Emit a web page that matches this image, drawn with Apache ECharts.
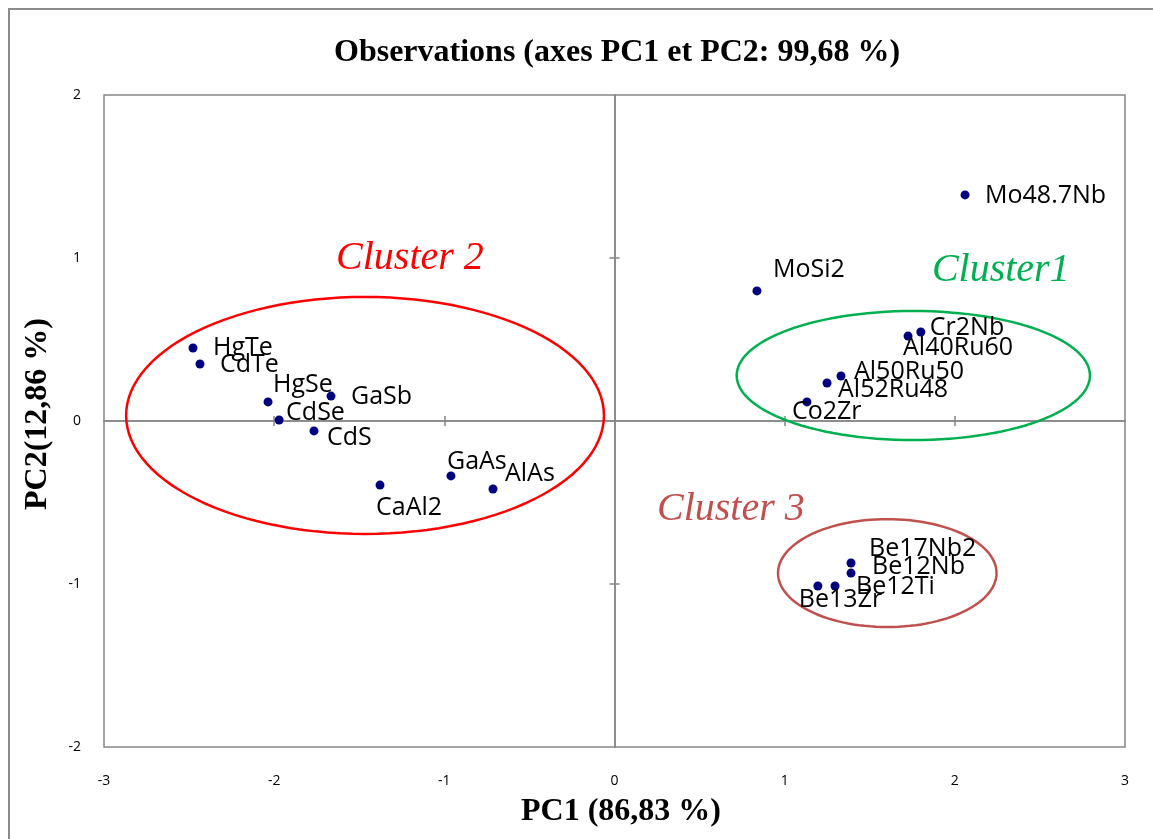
<!DOCTYPE html>
<html>
<head>
<meta charset="utf-8">
<script src="https://cdn.jsdelivr.net/npm/echarts@6/dist/echarts.min.js"></script>
<style>html,body{margin:0;padding:0;background:#fff;}#chart{width:1153px;height:839px;}</style>
</head>
<body>
<div id="chart"></div>
<script>
// Observation names and PCA coordinates
const names = ['HgTe','CdTe','HgSe','GaSb','CdSe','CdS','CaAl2','GaAs','AlAs','MoSi2','Mo48.7Nb','Cr2Nb','Al40Ru60','Al50Ru50','Al52Ru48','Co2Zr','Be17Nb2','Be12Nb','Be12Ti','Be13Zr'];
const pc1 = [-2.477,-2.436,-2.036,-1.666,-1.971,-1.766,-1.378,-0.961,-0.714,0.837,2.060,1.800,1.725,1.331,1.249,1.131,1.390,1.390,1.296,1.195];
const pc2 = [0.448,0.350,0.117,0.153,0.006,-0.061,-0.393,-0.337,-0.417,0.798,1.387,0.546,0.521,0.276,0.233,0.117,-0.871,-0.933,-1.012,-1.012];
const xTicks = [-3,-2,-1,0,1,2,3];
const yTicks = [-2,-1,0,1,2];

// Cluster annotations (ellipses in data units)
const clusterNames = ['Cluster 2','Cluster1','Cluster 3'];
const clusterCx = [-1.466, 1.756, 1.603];
const clusterCy = [0.034, 0.279, -0.933];
const clusterRx = [1.404, 1.038, 0.642];
const clusterRy = [0.727, 0.396, 0.331];
const clusterLabelX = [-1.202, 2.27, 0.684];
const clusterLabelY = [1.0, 0.926, -0.54];

// label styling offsets (pixels, text left edge / vertical middle relative to the dot)
const labelOffsets = {
  'HgTe':[20,0],'CdTe':[20,1],'HgSe':[5,-17],'GaSb':[20,1],'CdSe':[7,-7],'CdS':[13,7],
  'CaAl2':[-4,23],'GaAs':[-4,-14],'AlAs':[12,-15],'MoSi2':[16,-21],'Mo48.7Nb':[20,1],
  'Cr2Nb':[9,-4],'Al40Ru60':[-5,12],'Al50Ru50':[13,-4],'Al52Ru48':[11,7],'Co2Zr':[-15,10],
  'Be17Nb2':[18,-14],'Be12Nb':[21,-6],'Be12Ti':[21,1],'Be13Zr':[-19,14]
};
const clusterColors = ['#ff0000','#00b050','#c0504d'];

const chart = echarts.init(document.getElementById('chart'));
const axisCol = '#868686';
const xMin = xTicks[0], xMax = xTicks[xTicks.length-1];
const yMin = yTicks[0], yMax = yTicks[yTicks.length-1];
const xInner = xTicks.filter(v => v !== xMin && v !== xMax && v !== 0);
const yInner = yTicks.filter(v => v !== yMin && v !== yMax && v !== 0);

function xAx(extra){ return Object.assign({type:'value',min:xMin,max:xMax,interval:1,position:'bottom',splitLine:{show:false}}, extra); }
function yAx(extra){ return Object.assign({type:'value',min:yMin,max:yMax,interval:1,position:'left',splitLine:{show:false}}, extra); }

const option = {
  animation:false,
  title:{
    text:'Observations (axes PC1 et PC2: 99,68 %)',
    left:329, top:32,
    textStyle:{fontFamily:'Liberation Serif',fontWeight:'bold',fontSize:32,color:'#000'}
  },
  grid:{left:104,right:28,top:95,bottom:92,show:true,borderColor:axisCol,borderWidth:1.5,containLabel:false},
  xAxis:[
    xAx({axisLine:{show:false},axisTick:{show:false},axisLabel:{margin:27,fontFamily:'Open Sans',fontSize:14,color:'#000'}}),
    xAx({axisLine:{show:true,onZero:true,lineStyle:{color:axisCol,width:1.5}},axisTick:{show:true,length:5,customValues:xInner,lineStyle:{color:axisCol,width:1.5}},axisLabel:{show:false}}),
    xAx({axisLine:{show:true,onZero:true,lineStyle:{color:axisCol,width:1.5}},axisTick:{show:true,inside:true,length:5,customValues:xInner,lineStyle:{color:axisCol,width:1.5}},axisLabel:{show:false}})
  ],
  yAxis:[
    yAx({axisLine:{show:false},axisTick:{show:false},axisLabel:{margin:23,fontFamily:'Open Sans',fontSize:14,color:'#000'}}),
    yAx({axisLine:{show:true,onZero:true,lineStyle:{color:axisCol,width:1.5}},axisTick:{show:true,length:5,customValues:yInner,lineStyle:{color:axisCol,width:1.5}},axisLabel:{show:false}}),
    yAx({axisLine:{show:true,onZero:true,lineStyle:{color:axisCol,width:1.5}},axisTick:{show:true,inside:true,length:5,customValues:yInner,lineStyle:{color:axisCol,width:1.5}},axisLabel:{show:false}})
  ],
  graphic:[
    {type:'rect',shape:{x:9,y:9,width:1160,height:850},style:{fill:'none',stroke:'#8c8c8c',lineWidth:2},z:-10},
    {type:'text',x:621,y:812,style:{text:'PC1 (86,83 %)',fontFamily:'Liberation Serif',fontWeight:'bold',fontSize:32,fill:'#000',align:'center',verticalAlign:'middle'}},
    {type:'text',x:38,y:414,rotation:Math.PI/2,style:{text:'PC2(12,86 %)',fontFamily:'Liberation Serif',fontWeight:'bold',fontSize:32,fill:'#000',align:'center',verticalAlign:'middle'}}
  ],
  series:[
    {
      type:'custom',
      xAxisIndex:0,yAxisIndex:0,
      silent:true,
      data: clusterCx.map((c,i)=>[c, clusterCy[i]]),
      renderItem:function(params, api){
        const i = params.dataIndex;
        const pts = [];
        for(let k=0;k<=120;k++){
          const t = k/120*Math.PI*2;
          pts.push(api.coord([clusterCx[i]+clusterRx[i]*Math.cos(t), clusterCy[i]+clusterRy[i]*Math.sin(t)]));
        }
        const lp = api.coord([clusterLabelX[i], clusterLabelY[i]]);
        return {type:'group',children:[
          {type:'polygon',shape:{points:pts},style:{fill:'none',stroke:clusterColors[i],lineWidth:2.5}},
          {type:'text',x:lp[0],y:lp[1],style:{text:clusterNames[i],fill:clusterColors[i],font:'italic 40px "Liberation Serif"',align:'center',verticalAlign:'middle'}}
        ]};
      },
      z:1
    },
    {
      type:'scatter',
      xAxisIndex:0,yAxisIndex:0,
      symbolSize:9,
      itemStyle:{color:'#000080',opacity:1},
      data: names.map((n,i)=>({name:n,value:[pc1[i],pc2[i]]})),
      label:{show:true,position:'inside',align:'left',verticalAlign:'middle',formatter:'{b}',fontFamily:'Open Sans',fontSize:25,color:'#000'},
      labelLayout:function(params){
        const o = labelOffsets[names[params.dataIndex]] || [0,0];
        const cx = params.rect.x + params.rect.width/2;
        const cy = params.rect.y + params.rect.height/2;
        return {x: cx + o[0], y: cy + o[1], align:'left', verticalAlign:'middle', hideOverlap:false};
      },
      z:3
    }
  ]
};
chart.setOption(option);
</script>
</body>
</html>
